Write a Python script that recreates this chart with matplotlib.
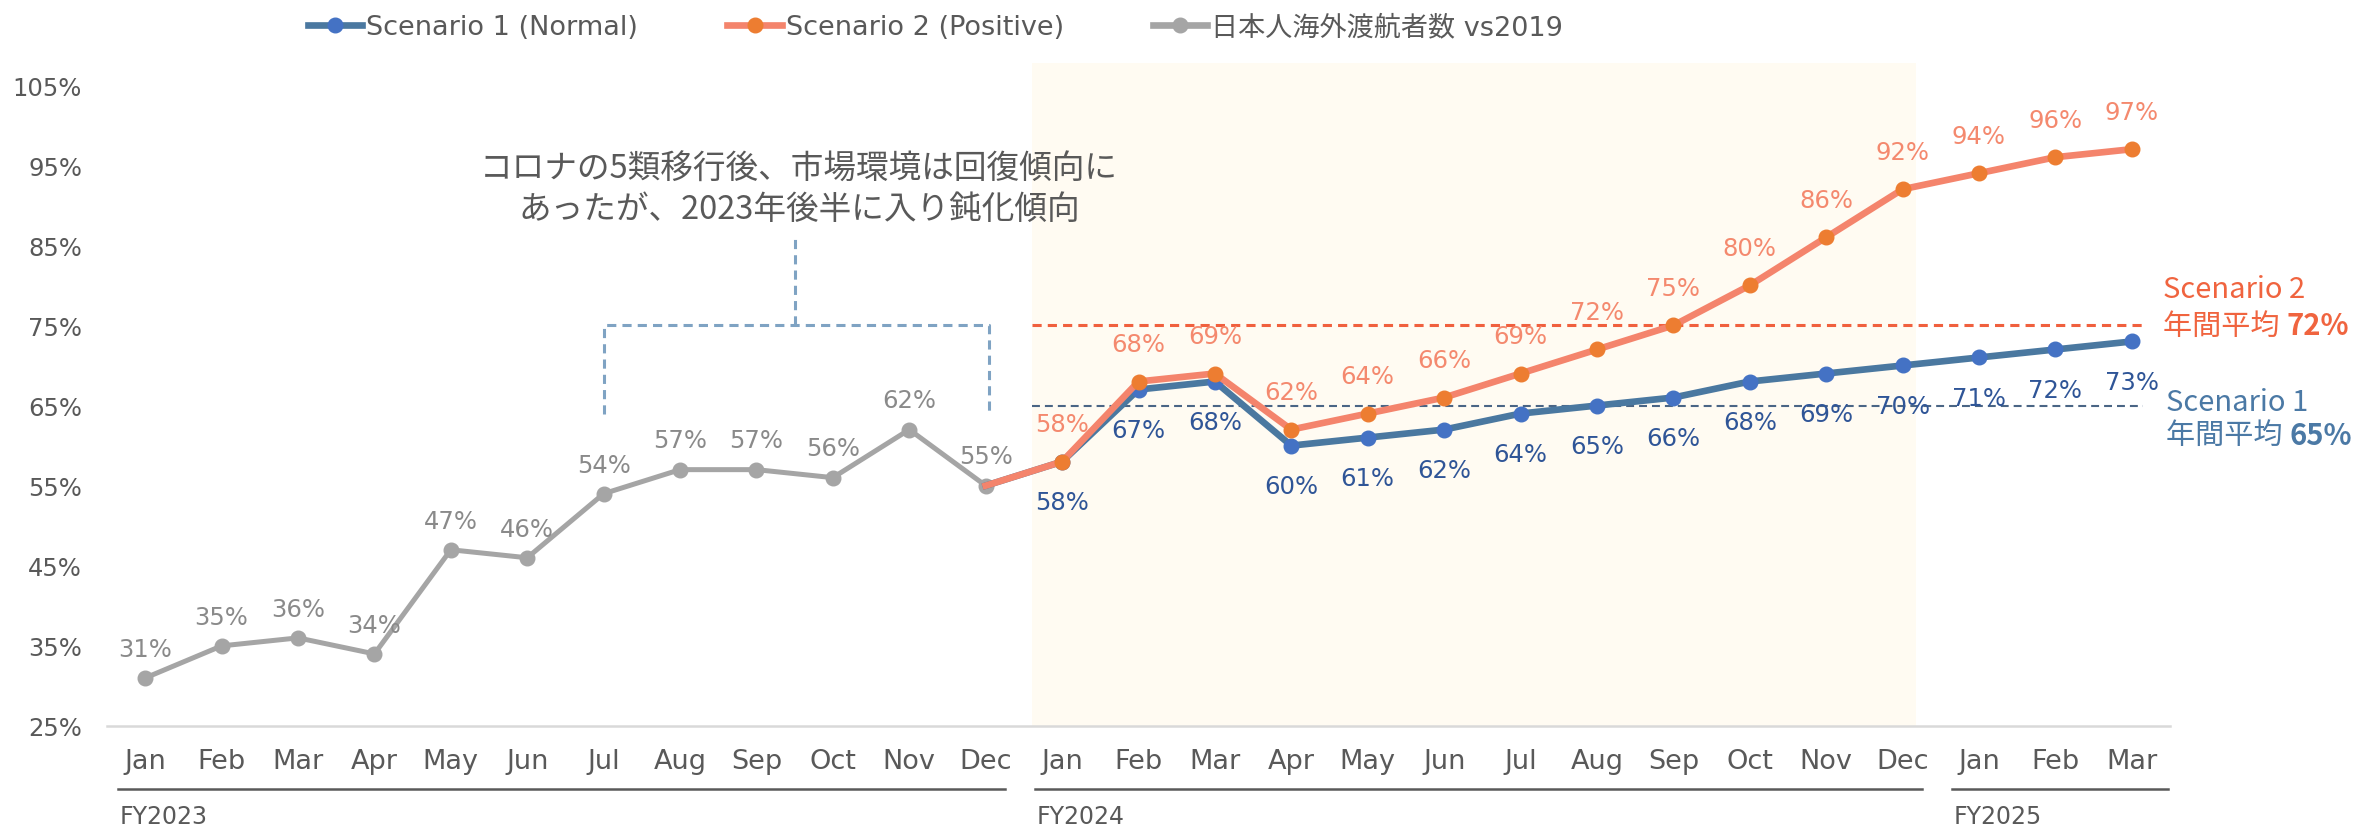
import matplotlib.pyplot as plt
from matplotlib.lines import Line2D

plt.rcParams['font.family'] = ['DejaVu Sans', 'Noto Sans CJK JP']

months = ['Jan', 'Feb', 'Mar', 'Apr', 'May', 'Jun', 'Jul', 'Aug', 'Sep', 'Oct', 'Nov', 'Dec',
          'Jan', 'Feb', 'Mar', 'Apr', 'May', 'Jun', 'Jul', 'Aug', 'Sep', 'Oct', 'Nov', 'Dec',
          'Jan', 'Feb', 'Mar']
fiscal_years = ['FY2023', 'FY2024', 'FY2025']
fy_start = [0, 12, 24]
fy_end = [11, 23, 26]

actual_2023 = [31, 35, 36, 34, 47, 46, 54, 57, 57, 56, 62, 55]
scenario1 = [58, 67, 68, 60, 61, 62, 64, 65, 66, 68, 69, 70, 71, 72, 73]
scenario2 = [58, 68, 69, 62, 64, 66, 69, 72, 75, 80, 86, 92, 94, 96, 97]
avg_s1 = 65
avg_s2 = 72
line_s1 = 65   # dashed reference levels
line_s2 = 75

yticks = [25, 35, 45, 55, 65, 75, 85, 95, 105]

GRAY = '#A5A5A5'
GRAY_TXT = '#8A8A8A'
BLUE_LINE = '#4A78A0'
BLUE_MK = '#4472C4'
BLUE_TXT = '#2F5597'
ORANGE_LINE = '#F4846C'
ORANGE_MK = '#ED7D31'
ORANGE_TXT = '#F4896E'
DARK = '#595959'

W, H = 2374, 828
fig = plt.figure(figsize=(W / 100, H / 100), dpi=100)
ax = fig.add_axes([107 / W, 1 - 727 / H, (2170 - 107) / W, (727 - 64) / H])
ax.set_xlim(-0.5, 26.5)
ax.set_ylim(25, 107.76)

# forecast period background
ax.axvspan(11.6, 23.18, color='#FFFBF2', zorder=0, lw=0)

x_act = list(range(len(actual_2023)))
n0 = len(actual_2023) - 1
x_fc = list(range(n0, n0 + len(scenario1) + 1))
s1 = [actual_2023[-1]] + scenario1
s2 = [actual_2023[-1]] + scenario2

ax.plot(x_act, actual_2023, color=GRAY, lw=3.6, marker='o', ms=10.5, zorder=3)
ax.plot(x_fc, s1, color=BLUE_LINE, lw=4.8, marker='o', ms=10.5, mfc=BLUE_MK, mec=BLUE_MK,
        markevery=list(range(1, len(s1))), zorder=4)
ax.plot(x_fc, s2, color=ORANGE_LINE, lw=4.8, marker='o', ms=10.5, mfc=ORANGE_MK, mec=ORANGE_MK,
        markevery=list(range(1, len(s2))), zorder=5)

# data labels
for x, v in zip(x_act, actual_2023):
    ax.annotate(f'{v}%', (x, v), xytext=(0, 21), textcoords='offset points',
                ha='center', va='center', fontsize=17.5, color=GRAY_TXT, zorder=6)
for x, v in zip(x_fc[1:], scenario2):
    ax.annotate(f'{v}%', (x, v), xytext=(0, 27), textcoords='offset points',
                ha='center', va='center', fontsize=17.5, color=ORANGE_TXT, zorder=6)
for x, v in zip(x_fc[1:], scenario1):
    ax.annotate(f'{v}%', (x, v), xytext=(0, -29), textcoords='offset points',
                ha='center', va='center', fontsize=17.5, color=BLUE_TXT, zorder=6)

# average reference lines
ax.hlines(line_s2, 11.6, 26.15, colors='#F0603E', lw=2.2, linestyles=(0, (3, 2)), zorder=2)
ax.hlines(line_s1, 11.6, 26.15, colors='#4A6585', lw=1.5, linestyles=(0, (3.8, 2.4)), zorder=2)

cjk = ['Noto Sans CJK JP', 'DejaVu Sans']
ax.text(26.41, 79.6, 'Scenario 2', fontsize=21, color='#F0643F', family=cjk,
        va='center', ha='left', clip_on=False)
t2b = ax.text(26.41, 75.0, '年間平均 ', fontsize=21, color='#F0643F', family=cjk,
              va='center', ha='left', clip_on=False)
ax.annotate(f'{avg_s2}%', xy=(1, 0.5), xycoords=t2b, va='center', ha='left',
            fontsize=21, color='#F0643F', family=cjk, weight='bold')
ax.text(26.45, 65.5, 'Scenario 1', fontsize=21, color='#4B79A5', family=cjk,
        va='center', ha='left', clip_on=False)
t1b = ax.text(26.45, 61.3, '年間平均 ', fontsize=21, color='#4B79A5', family=cjk,
              va='center', ha='left', clip_on=False)
ax.annotate(f'{avg_s1}%', xy=(1, 0.5), xycoords=t1b, va='center', ha='left',
            fontsize=21, color='#4B79A5', family=cjk, weight='bold')

# bracket + comment
br = dict(color='#7FA3C3', lw=2.2, ls=(0, (3, 2)), zorder=2)
ax.plot([6.0, 6.0, 11.04, 11.04], [64, 75, 75, 64], **br)
ax.plot([8.51, 8.51], [75, 86.3], **br)
ax.text(8.56, 94.5, 'コロナの5類移行後、市場環境は回復傾向に', fontsize=23.5, color=DARK,
        family=cjk, ha='center', va='center')
ax.text(8.56, 89.6, 'あったが、2023年後半に入り鈍化傾向', fontsize=23.5, color=DARK,
        family=cjk, ha='center', va='center')

# axes styling
for side in ['top', 'right', 'left']:
    ax.spines[side].set_visible(False)
ax.spines['bottom'].set_color('#D9D9D9')
ax.spines['bottom'].set_linewidth(1.8)
ax.set_yticks(yticks)
ax.set_yticklabels([f'{t}%' for t in yticks])
ax.set_xticks(range(len(months)))
ax.set_xticklabels(months)
ax.tick_params(axis='y', length=0, pad=18, labelsize=17.5, labelcolor=DARK)
ax.tick_params(axis='x', length=0, pad=16, labelsize=19.5, labelcolor=DARK)

# fiscal year grouping under the months
trans = ax.get_xaxis_transform()
for name, a, b in zip(fiscal_years, fy_start, fy_end):
    right = b + 0.25 if b < 26 else b + 0.48
    ax.plot([a - 0.35, right], [-0.095, -0.095], color=DARK, lw=1.8,
            transform=trans, clip_on=False)
    ax.text(a - 0.33, -0.1463, name, transform=trans, fontsize=17, color=DARK,
            ha='left', va='baseline')

handles = [
    Line2D([], [], color=BLUE_LINE, lw=4.8, marker='o', ms=10.5, mfc=BLUE_MK, mec=BLUE_MK),
    Line2D([], [], color=ORANGE_LINE, lw=4.8, marker='o', ms=10.5, mfc=ORANGE_MK, mec=ORANGE_MK),
    Line2D([], [], color=GRAY, lw=4.8, marker='o', ms=10.5),
]
labels = ['Scenario 1 (Normal)', 'Scenario 2 (Positive)', '日本人海外渡航者数 vs2019']
leg = fig.legend(handles, labels, loc='center left', bbox_to_anchor=(308 / W, 1 - 28 / H),
                 ncol=3, frameon=False, fontsize=19.5, borderpad=0, borderaxespad=0,
                 handlelength=2.0, handletextpad=0.15, columnspacing=3.3)
for t in leg.get_texts():
    t.set_color(DARK)

fig.savefig('out.png', dpi=100)
